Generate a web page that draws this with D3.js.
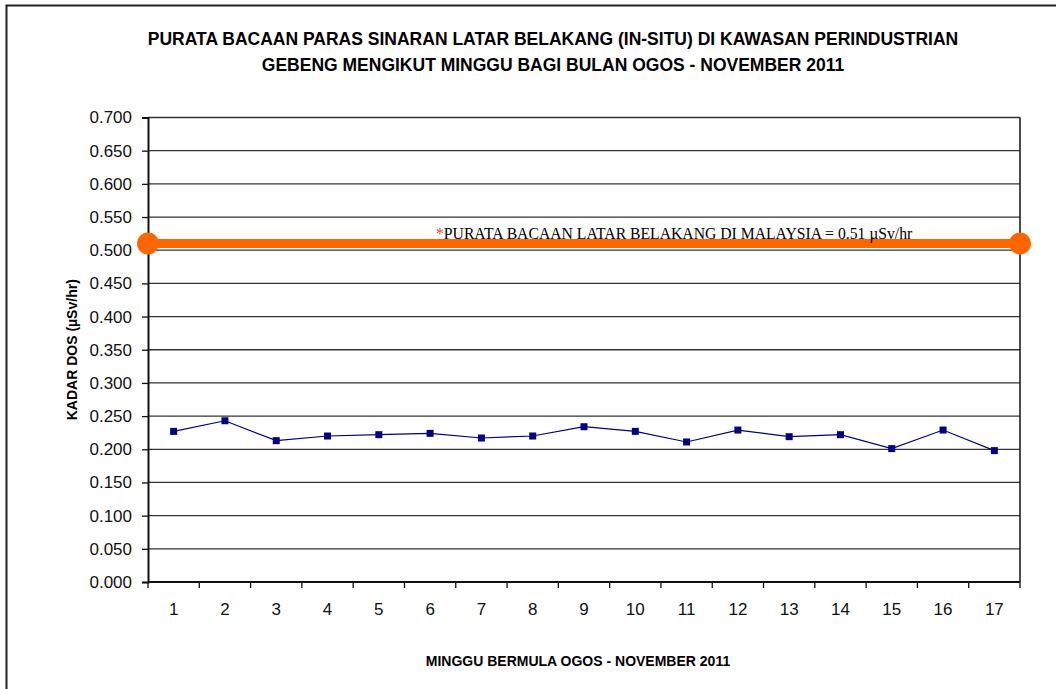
<!DOCTYPE html>
<html><head><meta charset="utf-8">
<script src="https://cdn.jsdelivr.net/npm/d3@7"></script>
<style>body{margin:0;background:#fff;}svg{display:block;}</style>
</head><body>
<svg id="c" width="1056" height="689"></svg>
<script>
const titleLines = ["PURATA BACAAN PARAS SINARAN LATAR BELAKANG (IN-SITU) DI KAWASAN PERINDUSTRIAN",
                    "GEBENG MENGIKUT MINGGU BAGI BULAN OGOS - NOVEMBER 2011"];
const weeks = ["1","2","3","4","5","6","7","8","9","10","11","12","13","14","15","16","17"];
const doseValues = [0.227,0.243,0.213,0.220,0.222,0.224,0.217,0.220,0.234,0.227,0.211,0.229,0.219,0.222,0.201,0.229,0.198];
const referenceValue = 0.51;
const referenceLabel = "PURATA BACAAN LATAR BELAKANG DI MALAYSIA = 0.51 µSv/hr";
const yTicks = [0,0.05,0.1,0.15,0.2,0.25,0.3,0.35,0.4,0.45,0.5,0.55,0.6,0.65,0.7];
const yTitle = "KADAR DOS (µSv/hr)";
const xTitle = "MINGGU BERMULA OGOS - NOVEMBER 2011";

const svg = d3.select("#c");
const L = 148, R = 1020, T = 117.5, B = 582;
const sans = "Arial, 'Liberation Sans', sans-serif";

// outer frame
svg.append("rect").attr("x",6.5).attr("y",5.5).attr("width",1100).attr("height",800)
  .attr("fill","none").attr("stroke","#222").attr("stroke-width",2);

const x = d3.scaleBand().domain(weeks).range([L,R]);
const y = d3.scaleLinear().domain([0,0.7]).range([B,T]);

// gridlines
svg.append("g").selectAll("line").data(yTicks.slice(1)).join("line")
  .attr("x1",L).attr("x2",R).attr("y1",d=>y(d)).attr("y2",d=>y(d))
  .attr("stroke","#333").attr("stroke-width",1.3);
// right border
svg.append("line").attr("x1",R).attr("x2",R).attr("y1",T).attr("y2",B).attr("stroke","#111").attr("stroke-width",1.5);

// y axis
const yAxis = d3.axisLeft(y).tickValues(yTicks).tickFormat(d3.format(".3f")).tickSizeOuter(0).tickSize(6).tickPadding(10);
const gy = svg.append("g").attr("transform",`translate(${L},0)`).call(yAxis);
gy.select(".domain").attr("stroke","#111").attr("stroke-width",2);
gy.selectAll(".tick line").attr("stroke","#111").attr("stroke-width",1.3);
gy.selectAll("text").attr("font-family",sans).attr("font-size",17).attr("fill","#111");

// x axis
const gx = svg.append("g").attr("transform",`translate(0,${B})`)
  .call(d3.axisBottom(x).tickSize(0).tickPadding(21));
gx.select(".domain").remove();
gx.selectAll("text").attr("font-family",sans).attr("font-size",17).attr("fill","#111");
const bounds = weeks.map(w=>x(w)).concat([R]);
svg.append("g").selectAll("line").data(bounds).join("line")
  .attr("x1",d=>d).attr("x2",d=>d).attr("y1",B).attr("y2",B+6).attr("stroke","#111").attr("stroke-width",1.3);
svg.append("line").attr("x1",L).attr("x2",R).attr("y1",B).attr("y2",B).attr("stroke","#111").attr("stroke-width",2);

// reference line
svg.append("line").attr("x1",L).attr("x2",R).attr("y1",y(referenceValue)).attr("y2",y(referenceValue))
  .attr("stroke","#FF6600").attr("stroke-width",9);
svg.append("g").selectAll("circle").data([L,R]).join("circle")
  .attr("cx",d=>d).attr("cy",y(referenceValue)).attr("r",11).attr("fill","#FF6600");
const rt = svg.append("text").attr("x",436).attr("y",y(referenceValue)-4.5)
  .attr("font-family","'Times New Roman', 'Liberation Serif', serif").attr("font-size",15.7).attr("fill","#000");
rt.append("tspan").attr("fill","#FF3333").text("*");
rt.append("tspan").text(referenceLabel);

// data line
const line = d3.line().x((d,i)=>x(weeks[i])+x.bandwidth()/2).y(d=>y(d));
svg.append("path").datum(doseValues).attr("d",line).attr("fill","none").attr("stroke","#000080").attr("stroke-width",1.2);
svg.append("g").selectAll("rect").data(doseValues).join("rect")
  .attr("x",(d,i)=>x(weeks[i])+x.bandwidth()/2-3.5).attr("y",d=>y(d)-3.5)
  .attr("width",7).attr("height",7).attr("fill","#000080");

// titles
svg.append("g").selectAll("text").data(titleLines).join("text")
  .attr("x",553).attr("y",(d,i)=>45+i*26).attr("text-anchor","middle")
  .attr("font-family",sans).attr("font-weight","bold").attr("font-size",17.5).attr("fill","#000")
  .text(d=>d);
svg.append("text").attr("transform",`translate(77,${(T+B)/2}) rotate(-90)`).attr("text-anchor","middle")
  .attr("font-family",sans).attr("font-weight","bold").attr("font-size",14).text(yTitle);
svg.append("text").attr("x",578).attr("y",666).attr("text-anchor","middle")
  .attr("font-family",sans).attr("font-weight","bold").attr("font-size",14).text(xTitle);
</script>
</body></html>
